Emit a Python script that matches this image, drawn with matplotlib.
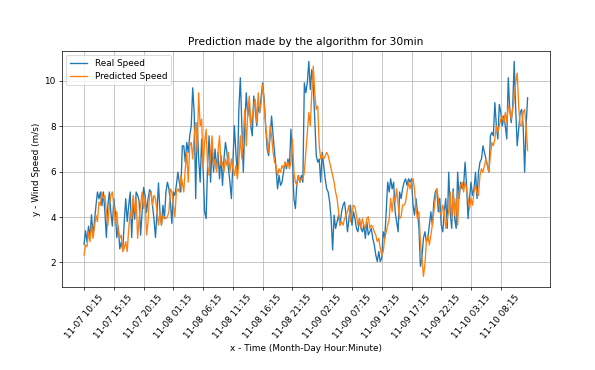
import numpy as np
import pandas as pd
import matplotlib
matplotlib.use('Agg')
import matplotlib.pyplot as plt

# 15 min samples starting 11-07 10:15
start = '2018-11-07 10:15'
step = '15min'

real_speed = [
    2.8, 3.4, 2.9, 3.6, 3.1, 4.1, 3.2, 3.8, 4.5, 5.1, 4.8, 5.1, 4.5, 5.1, 4.2, 3.1, 4.5, 5.1, 4.2, 3.6,
    4.8, 4.2, 3.1, 3.6, 2.6, 2.9, 2.55, 3.8, 4.8, 3.8, 4.5, 5.1, 3.1, 4.8, 3.9, 5.1, 4.95, 4.7, 3.2, 4.2,
    5.3, 4.95, 4.2, 4.8, 5.2, 5.1, 4.5, 3.9, 3.1, 4.2, 5.5,
    4.23, 3.64, 4.52, 3.93, 5.10, 5.53, 5.24, 4.66, 3.71, 5.10, 4.95, 5.39, 5.97, 5.53, 5.10, 7.13, 7.13, 6.41, 7.28, 6.84,
    7.57, 8.01, 9.68, 8.59, 4.81, 8.15, 6.55, 5.53, 7.43, 6.12, 4.23, 3.93, 6.26, 7.57, 5.53, 7.13, 5.97, 6.99, 6.12, 6.84,
    5.68, 6.70, 5.39, 6.55, 7.28, 6.84, 6.12, 5.53, 4.81, 6.41, 8.01, 6.84, 5.83, 8.73, 10.12, 8.01, 5.97, 8.15, 9.46, 8.44,
    9.03, 8.01, 7.57, 9.32,
    8.73, 8.01, 8.88, 8.59, 9.32, 9.90, 9.17, 8.01, 6.99, 6.70, 7.57, 8.44, 7.57, 6.84, 6.12, 5.24, 5.83, 5.39, 5.53, 5.97,
    6.41, 6.12, 6.55, 6.26, 7.86, 6.55, 4.81, 4.37, 5.53, 5.83, 5.53, 5.83, 5.53, 9.90, 9.46, 9.90, 10.84, 9.61, 10.48, 9.75,
    8.30, 6.70, 6.41, 6.55, 5.53, 6.84, 6.26, 5.68, 5.24, 5.10, 4.66, 3.93, 2.55, 4.08, 3.50, 3.79, 4.08, 3.64, 4.23, 4.52,
    4.66, 4.08, 3.35, 3.93,
    4.52, 3.64, 4.23, 3.93, 3.50, 3.35, 3.93, 3.50, 3.35, 3.64, 3.06, 3.79, 3.21, 3.35, 3.50, 3.06, 2.77, 2.33, 2.04, 2.48,
    2.04, 2.19, 3.35, 3.06, 4.23, 5.53, 5.10, 5.68, 5.24, 5.53, 4.23, 3.79, 3.35, 5.10, 4.81, 5.24, 5.53, 5.68, 5.39, 5.68,
    5.53, 5.68, 4.52, 4.08, 4.81, 4.23, 3.50, 1.83, 2.19, 3.06, 3.35, 2.92, 3.06, 3.64, 4.23, 3.64, 4.66, 5.10, 5.24, 4.23,
    4.81, 3.64, 3.35, 4.23,
    4.81, 3.50, 5.97, 4.23, 3.50, 5.24, 3.93, 3.50, 5.97, 4.81, 5.53, 5.24, 5.39, 6.41, 5.39, 3.93, 4.81, 5.53, 4.95, 5.24,
    5.97, 4.81, 5.97, 6.41, 6.55, 7.13, 6.84, 6.55, 6.26, 5.97, 7.57, 7.72, 7.57, 9.03, 8.01, 7.43, 8.95, 8.59, 8.01, 8.44,
    8.01, 7.43, 10.12, 8.73, 8.15, 8.88, 10.84, 8.73, 7.13, 7.86, 8.59, 8.73, 8.01, 5.97, 8.01, 9.24,
]

pred_speed = [
    2.33, 2.77, 2.70, 3.35, 2.92, 3.64, 3.06, 3.57, 4.08, 3.79, 4.66, 4.52, 5.10, 4.81, 4.95, 4.23, 3.64, 4.52, 4.95, 5.10,
    4.52, 3.64, 4.23, 3.35, 3.06, 3.21, 2.48, 2.63, 2.92, 2.48, 3.50, 4.23, 3.93, 4.95, 4.23, 4.81, 3.06, 3.93, 4.52, 5.10,
    4.37, 4.81, 3.21, 3.79, 4.95, 5.10, 4.52, 4.95, 4.81, 4.23, 3.64,
    4.23, 3.64, 4.01, 4.01, 3.93, 4.01, 4.23, 5.24, 5.10, 4.52, 4.01, 5.10, 5.24, 5.10, 5.83, 5.53, 5.10, 6.12, 6.84, 5.53,
    7.13, 7.28, 6.55, 7.57, 8.15, 6.84, 9.46, 8.01, 8.30, 6.12, 7.28, 7.86, 6.26, 5.83, 6.84, 7.57, 6.26, 6.55, 5.97, 6.84,
    7.57, 6.26, 6.41, 5.97, 6.55, 6.26, 6.84, 5.97, 6.55, 6.12, 5.83, 6.26, 5.68, 6.41, 7.57, 6.55, 7.57, 8.73, 7.13, 8.59,
    9.32, 8.01, 8.44, 8.88,
    9.17, 8.15, 9.46, 8.59, 9.03, 9.83, 9.03, 8.01, 7.43, 6.84, 8.01, 7.57, 6.84, 6.41, 6.26, 5.83, 6.12, 5.97, 6.26, 6.12,
    6.41, 6.26, 6.41, 6.12, 6.41, 7.43, 5.97, 5.53, 5.39, 5.83, 5.53, 5.68, 5.68, 5.97, 6.84, 7.72, 8.59, 8.01, 9.46, 10.63,
    9.46, 8.73, 8.88, 7.13, 6.55, 6.70, 6.55, 6.70, 6.84, 6.70, 6.41, 6.12, 5.83, 5.53, 5.10, 4.81, 4.23, 3.64, 3.79, 3.64,
    3.93, 4.08, 4.23, 4.52,
    3.79, 4.23, 4.52, 4.44, 4.08, 3.64, 3.93, 3.50, 3.93, 3.64, 3.50, 3.93, 4.01, 3.50, 3.64, 3.57, 3.35, 3.21, 2.92, 3.06,
    2.63, 2.33, 2.48, 3.06, 3.35, 3.64, 3.93, 4.81, 4.23, 4.95, 4.66, 5.24, 4.52, 3.93, 4.01, 4.52, 4.52, 4.66, 5.10, 5.53,
    5.24, 5.53, 5.68, 5.24, 4.37, 3.93, 4.23, 2.92, 2.19, 1.39, 1.90, 2.92, 3.21, 2.77, 3.21, 3.64, 4.23, 4.81, 5.24, 4.81,
    4.23, 4.08, 4.52, 4.23,
    3.50, 3.93, 4.23, 5.10, 3.93, 5.10, 4.08, 4.81, 3.64, 5.10, 5.39, 5.53, 5.10, 5.53, 5.24, 4.81, 4.37, 4.81, 4.52, 5.10,
    5.39, 5.10, 4.95, 5.83, 6.12, 5.97, 6.26, 6.55, 6.26, 5.97, 6.70, 7.28, 7.13, 7.43, 8.01, 7.72, 8.01, 8.30, 8.44, 8.15,
    8.59, 8.15, 8.88, 8.73, 8.30, 8.73, 9.17, 9.90, 10.33, 8.88, 8.01, 8.01, 8.59, 8.73, 8.01, 6.92,
]

t = pd.date_range(start, periods=len(real_speed), freq=step)
ticks = pd.date_range(start, periods=15, freq='5h')
tick_labels = [d.strftime('%m-%d %H:%M') for d in ticks]

dpi = 63.6
fig = plt.figure(figsize=(595 / dpi, 370 / dpi), dpi=dpi)
fig.subplots_adjust(left=0.104, right=0.924, top=0.863, bottom=0.224)
ax = fig.gca()
ax.plot(t, real_speed, label='Real Speed')
ax.plot(t, pred_speed, label='Predicted Speed')
ax.set_xticks(ticks)
ax.set_xticklabels(tick_labels, rotation=50)
ax.set_title('Prediction made by the algorithm for 30min')
ax.set_xlabel('x - Time (Month-Day Hour:Minute)')
ax.set_ylabel('y - Wind Speed (m/s)')
ax.grid(True)
ax.legend(loc='upper left')

fig.savefig('out.png', dpi=dpi)
